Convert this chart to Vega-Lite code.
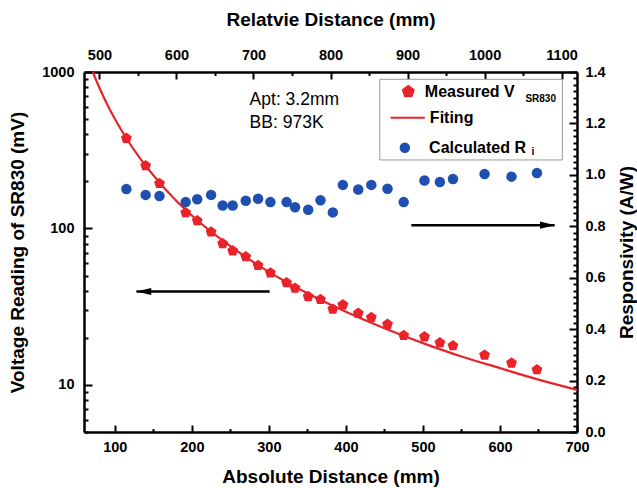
{
  "$schema": "https://vega.github.io/schema/vega-lite/v6.json",
  "width": 493,
  "height": 360,
  "autosize": {"type": "none"},
  "padding": {"left": 84, "top": 72, "right": 60, "bottom": 56},
  "background": "white",
  "config": {
    "view": {"stroke": null},
    "font": "Liberation Sans",
    "axis": {
      "grid": false,
      "domainColor": "black",
      "domainWidth": 2.5,
      "tickColor": "black",
      "tickWidth": 2,
      "labelFont": "Liberation Sans",
      "labelFontWeight": "bold",
      "labelFontSize": 14.5,
      "labelColor": "black",
      "labelFlush": false,
      "labelOverlap": false,
      "titleFont": "Liberation Sans",
      "titleFontWeight": "bold",
      "titleFontSize": 19,
      "titleColor": "black"
    }
  },
  "datasets": {
    "meas": [
      {"d": 115, "V": 377, "R": 0.945},
      {"d": 140, "V": 252, "R": 0.922},
      {"d": 158, "V": 194, "R": 0.918},
      {"d": 192, "V": 126, "R": 0.894},
      {"d": 207, "V": 112, "R": 0.905},
      {"d": 225, "V": 95, "R": 0.922},
      {"d": 240, "V": 80, "R": 0.881},
      {"d": 253, "V": 72, "R": 0.881},
      {"d": 270, "V": 66, "R": 0.899},
      {"d": 286, "V": 58, "R": 0.907},
      {"d": 302, "V": 52, "R": 0.894},
      {"d": 323, "V": 45, "R": 0.894},
      {"d": 334, "V": 41.5, "R": 0.874},
      {"d": 351, "V": 36.7, "R": 0.864},
      {"d": 367, "V": 35.2, "R": 0.901},
      {"d": 383, "V": 30.5, "R": 0.854},
      {"d": 396, "V": 32.5, "R": 0.961},
      {"d": 416, "V": 28.7, "R": 0.943},
      {"d": 433, "V": 27, "R": 0.961},
      {"d": 454, "V": 24.4, "R": 0.946},
      {"d": 475, "V": 20.7, "R": 0.894},
      {"d": 502, "V": 20.3, "R": 0.978},
      {"d": 522, "V": 18.6, "R": 0.972},
      {"d": 539, "V": 17.8, "R": 0.984},
      {"d": 580, "V": 15.5, "R": 1.003},
      {"d": 615, "V": 13.8, "R": 0.993},
      {"d": 648, "V": 12.5, "R": 1.007}
    ],
    "fit": [
      {"d": 71.5, "V": 1000},
      {"d": 75, "V": 905},
      {"d": 80, "V": 793},
      {"d": 90, "V": 623},
      {"d": 100, "V": 502},
      {"d": 115, "V": 377},
      {"d": 130, "V": 293},
      {"d": 150, "V": 219},
      {"d": 175, "V": 159},
      {"d": 200, "V": 121},
      {"d": 250, "V": 77},
      {"d": 300, "V": 52.8},
      {"d": 350, "V": 38.5},
      {"d": 400, "V": 29.3},
      {"d": 450, "V": 23},
      {"d": 500, "V": 18.5},
      {"d": 550, "V": 15.2},
      {"d": 600, "V": 12.8},
      {"d": 650, "V": 10.8},
      {"d": 700, "V": 9.3}
    ],
    "notes": [
      {"d": 275, "V": 662, "label": "Apt: 3.2mm"},
      {"d": 275, "V": 469, "label": "BB: 973K"}
    ],
    "legendBox": [{"d1": 444, "d2": 681, "V1": 898, "V2": 274}],
    "legendText": [
      {"d": 502.5, "V": 748, "label": "Measured  V"},
      {"d": 509, "V": 510, "label": "Fiting"},
      {"d": 508, "V": 328, "label": "Calculated R"}
    ],
    "legendSub": [
      {"d": 633, "V": 669, "label": "SR830"},
      {"d": 641, "V": 308, "label": "i"}
    ],
    "legendPent": [{"d": 481, "V": 748}],
    "legendLine": [{"d1": 458, "d2": 502.5, "V": 510}],
    "legendDot": [{"d": 476.5, "V": 328}],
    "arrowLines": [
      {"d1": 128, "d2": 301, "V": 39.5},
      {"d1": 485, "d2": 671, "V": 105}
    ],
    "arrowLeft": [{"d": 137.6, "V": 39.5}],
    "arrowRight": [{"d": 661.7, "V": 105}],
    "topTicks": [{"rel": 500}, {"rel": 1100}]
  },
  "layer": [
    {
      "layer": [
        {
          "layer": [
            {
              "data": {"name": "fit"},
              "mark": {"type": "line", "color": "#e8232a", "strokeWidth": 2.2, "interpolate": "monotone", "clip": true},
              "encoding": {
                "x": {
                  "field": "d", "type": "quantitative",
                  "scale": {"domain": [60, 700], "nice": false, "zero": false},
                  "axis": {
                    "orient": "bottom",
                    "title": "Absolute Distance (mm)",
                    "values": [100, 150, 200, 250, 300, 350, 400, 450, 500, 550, 600, 650, 700],
                    "format": "d",
                    "labelExpr": "datum.value % 100 === 0 ? format(datum.value, 'd') : ''",
                    "tickSize": {"condition": {"test": "datum.value % 100 === 0", "value": -7}, "value": -3.5},
                    "labelPadding": 15,
                    "titlePadding": 10
                  }
                },
                "y": {
                  "field": "V", "type": "quantitative",
                  "scale": {"type": "log", "domain": [5, 1000], "nice": false, "zero": false},
                  "axis": {
                    "orient": "left",
                    "title": "Voltage Reading of SR830 (mV)",
                    "values": [5, 6, 7, 8, 9, 10, 20, 30, 40, 50, 60, 70, 80, 90, 100, 200, 300, 400, 500, 600, 700, 800, 900, 1000],
                    "format": "d",
                    "labelExpr": "datum.value === 10 || datum.value === 100 || datum.value === 1000 ? format(datum.value, 'd') : ''",
                    "tickSize": {"condition": {"test": "datum.value === 10 || datum.value === 100 || datum.value === 1000", "value": -8}, "value": -4},
                    "labelPadding": 18,
                    "titlePadding": 14
                  }
                }
              }
            },
            {
              "data": {"name": "meas"},
              "mark": {"type": "point", "filled": true, "opacity": 1, "color": "#e8232a", "size": 130, "shape": "M0,-1L0.951,-0.309L0.588,0.809L-0.588,0.809L-0.951,-0.309Z"},
              "encoding": {
                "x": {"field": "d", "type": "quantitative", "scale": {"domain": [60, 700], "nice": false, "zero": false}},
                "y": {"field": "V", "type": "quantitative", "scale": {"type": "log", "domain": [5, 1000], "nice": false, "zero": false}}
              }
            },
            {
              "data": {"name": "notes"},
              "mark": {"type": "text", "align": "left", "baseline": "middle", "fontSize": 17.5, "font": "Liberation Sans", "color": "black"},
              "encoding": {
                "x": {"field": "d", "type": "quantitative", "scale": {"domain": [60, 700], "nice": false, "zero": false}},
                "y": {"field": "V", "type": "quantitative", "scale": {"type": "log", "domain": [5, 1000], "nice": false, "zero": false}},
                "text": {"field": "label"}
              }
            },
            {
              "data": {"name": "arrowLines"},
              "mark": {"type": "rule", "color": "black", "strokeWidth": 2.5},
              "encoding": {
                "x": {"field": "d1", "type": "quantitative", "scale": {"domain": [60, 700], "nice": false, "zero": false}},
                "x2": {"field": "d2"},
                "y": {"field": "V", "type": "quantitative", "scale": {"type": "log", "domain": [5, 1000], "nice": false, "zero": false}}
              }
            },
            {
              "data": {"name": "arrowLeft"},
              "mark": {"type": "point", "filled": true, "opacity": 1, "color": "black", "size": 225, "shape": "M-1,0L1,-0.47L1,0.47Z"},
              "encoding": {
                "x": {"field": "d", "type": "quantitative", "scale": {"domain": [60, 700], "nice": false, "zero": false}},
                "y": {"field": "V", "type": "quantitative", "scale": {"type": "log", "domain": [5, 1000], "nice": false, "zero": false}}
              }
            },
            {
              "data": {"name": "arrowRight"},
              "mark": {"type": "point", "filled": true, "opacity": 1, "color": "black", "size": 225, "shape": "M1,0L-1,-0.47L-1,0.47Z"},
              "encoding": {
                "x": {"field": "d", "type": "quantitative", "scale": {"domain": [60, 700], "nice": false, "zero": false}},
                "y": {"field": "V", "type": "quantitative", "scale": {"type": "log", "domain": [5, 1000], "nice": false, "zero": false}}
              }
            },
            {
              "data": {"name": "legendBox"},
              "mark": {"type": "rect", "fill": "white", "stroke": "#9a9a9a", "strokeWidth": 1},
              "encoding": {
                "x": {"field": "d1", "type": "quantitative", "scale": {"domain": [60, 700], "nice": false, "zero": false}},
                "x2": {"field": "d2"},
                "y": {"field": "V1", "type": "quantitative", "scale": {"type": "log", "domain": [5, 1000], "nice": false, "zero": false}},
                "y2": {"field": "V2"}
              }
            },
            {
              "data": {"name": "legendPent"},
              "mark": {"type": "point", "filled": true, "opacity": 1, "color": "#e8232a", "size": 190, "shape": "M0,-1L0.951,-0.309L0.588,0.809L-0.588,0.809L-0.951,-0.309Z"},
              "encoding": {
                "x": {"field": "d", "type": "quantitative", "scale": {"domain": [60, 700], "nice": false, "zero": false}},
                "y": {"field": "V", "type": "quantitative", "scale": {"type": "log", "domain": [5, 1000], "nice": false, "zero": false}}
              }
            },
            {
              "data": {"name": "legendLine"},
              "mark": {"type": "rule", "color": "#e8232a", "strokeWidth": 2.2},
              "encoding": {
                "x": {"field": "d1", "type": "quantitative", "scale": {"domain": [60, 700], "nice": false, "zero": false}},
                "x2": {"field": "d2"},
                "y": {"field": "V", "type": "quantitative", "scale": {"type": "log", "domain": [5, 1000], "nice": false, "zero": false}}
              }
            },
            {
              "data": {"name": "legendDot"},
              "mark": {"type": "point", "filled": true, "opacity": 1, "color": "#1f4fb0", "size": 110, "shape": "circle"},
              "encoding": {
                "x": {"field": "d", "type": "quantitative", "scale": {"domain": [60, 700], "nice": false, "zero": false}},
                "y": {"field": "V", "type": "quantitative", "scale": {"type": "log", "domain": [5, 1000], "nice": false, "zero": false}}
              }
            },
            {
              "data": {"name": "legendText"},
              "mark": {"type": "text", "align": "left", "baseline": "middle", "fontSize": 16, "fontWeight": "bold", "font": "Liberation Sans", "color": "black"},
              "encoding": {
                "x": {"field": "d", "type": "quantitative", "scale": {"domain": [60, 700], "nice": false, "zero": false}},
                "y": {"field": "V", "type": "quantitative", "scale": {"type": "log", "domain": [5, 1000], "nice": false, "zero": false}},
                "text": {"field": "label"}
              }
            },
            {
              "data": {"name": "legendSub"},
              "mark": {"type": "text", "align": "left", "baseline": "middle", "fontSize": 10, "fontWeight": "bold", "font": "Liberation Sans", "color": "black"},
              "encoding": {
                "x": {"field": "d", "type": "quantitative", "scale": {"domain": [60, 700], "nice": false, "zero": false}},
                "y": {"field": "V", "type": "quantitative", "scale": {"type": "log", "domain": [5, 1000], "nice": false, "zero": false}},
                "text": {"field": "label"}
              }
            }
          ]
        },
        {
          "data": {"name": "meas"},
          "mark": {"type": "point", "filled": true, "opacity": 1, "color": "#1f4fb0", "size": 110, "shape": "circle"},
          "encoding": {
            "x": {"field": "d", "type": "quantitative", "scale": {"domain": [60, 700], "nice": false, "zero": false}},
            "y": {
              "field": "R", "type": "quantitative",
              "scale": {"domain": [0, 1.4], "nice": false},
              "axis": {
                "orient": "right",
                "title": "Responsivity (A/W)",
                "titleAngle": 270,
                "titleBaseline": "top",
                "values": [0, 0.025, 0.05, 0.075, 0.1, 0.125, 0.15, 0.175, 0.2, 0.225, 0.25, 0.275, 0.3, 0.325, 0.35, 0.375, 0.4, 0.425, 0.45, 0.475, 0.5, 0.525, 0.55, 0.575, 0.6, 0.625, 0.65, 0.675, 0.7, 0.725, 0.75, 0.775, 0.8, 0.825, 0.85, 0.875, 0.9, 0.925, 0.95, 0.975, 1, 1.025, 1.05, 1.075, 1.1, 1.125, 1.15, 1.175, 1.2, 1.225, 1.25, 1.275, 1.3, 1.325, 1.35, 1.375, 1.4],
                "labelExpr": "abs(datum.value * 5 - round(datum.value * 5)) < 0.001 ? format(datum.value, '.1f') : ''",
                "tickSize": {"condition": {"test": "abs(datum.value * 5 - round(datum.value * 5)) < 0.001", "value": -8}, "value": -4},
                "labelPadding": 16,
                "titlePadding": 12
              }
            }
          }
        }
      ],
      "resolve": {"scale": {"y": "independent"}}
    },
    {
      "data": {"name": "topTicks"},
      "mark": {"type": "point", "opacity": 0},
      "encoding": {
        "x": {
          "field": "rel", "type": "quantitative",
          "scale": {"domain": [480, 1120], "nice": false, "zero": false},
          "axis": {
            "orient": "top",
            "title": "Relatvie Distance (mm)",
            "values": [500, 550, 600, 650, 700, 750, 800, 850, 900, 950, 1000, 1050, 1100],
            "format": "d",
            "labelExpr": "datum.value % 100 === 0 ? format(datum.value, 'd') : ''",
            "tickSize": {"condition": {"test": "datum.value % 100 === 0", "value": -7}, "value": -3.5},
            "labelPadding": 17,
            "titlePadding": 14
          }
        }
      }
    }
  ],
  "resolve": {"scale": {"x": "independent"}}
}
